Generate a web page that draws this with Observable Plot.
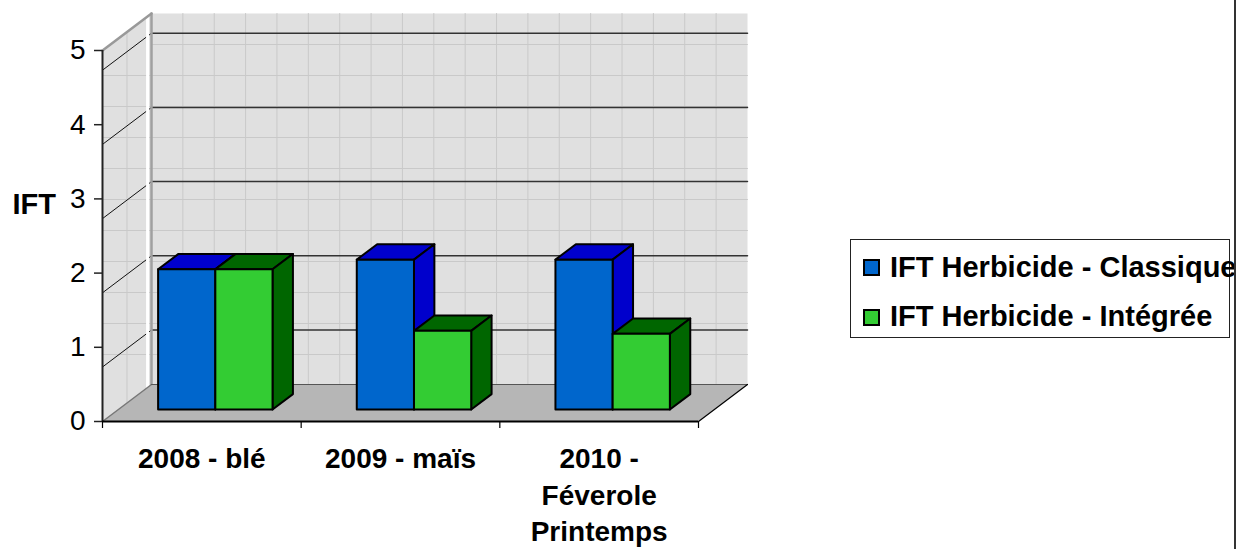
<!DOCTYPE html>
<html>
<head>
<meta charset="utf-8">
<script src="https://cdn.jsdelivr.net/npm/d3@7"></script>
<script src="https://cdn.jsdelivr.net/npm/@observablehq/plot@0.6"></script>
<style>
  body { margin: 0; background: #fff; }
  #wrap { position: relative; width: 1241px; height: 549px; overflow: hidden;
          font-family: "Liberation Sans", Arial, sans-serif; }
  #chart svg { display: block; }
  #legend { position: absolute; left: 850px; top: 239px; width: 378px; height: 97px;
            border: 1px solid #222; }
  #legend .sw { position: absolute; left: 12px; width: 13px; height: 13px;
                border: 2px solid #000; }
  #legend .lbl { position: absolute; left: 39px; white-space: nowrap;
                 font-size: 29px; font-weight: bold; line-height: 29px; color: #000; }
  #edge { position: absolute; left: 1234px; top: 0; width: 2px; height: 549px; background: #333; }
</style>
</head>
<body>
<div id="wrap">
  <div id="chart"></div>
  <div id="legend"></div>
  <div id="edge"></div>
</div>
<script>
// ---- data ----
const categories = ["2008 - blé", "2009 - maïs", "2010 -\nFéverole\nPrintemps"];
const seriesNames = ["IFT Herbicide - Classique", "IFT Herbicide - Intégrée"];
const classique = [1.89, 2.02, 2.02];
const integree  = [1.89, 1.06, 1.02];
const yTicks = [0, 1, 2, 3, 4, 5];
const yLabel = "IFT";

// ---- styles ----
const faceColors = [
  {front: "#0066CC", top: "#0000CC", side: "#0000CC"},
  {front: "#33CC33", top: "#006600", side: "#006600"}
];

// ---- layout ----
const W = 1241, H = 549, ML = 102, MR = 543, MT = 50, MB = 128;
const nCat = categories.length;
const yMax = yTicks[yTicks.length - 1];
const PX = nCat / (W - ML - MR);     // data x per pixel
const PY = yMax / (H - MT - MB);     // data y per pixel
const DXP = 49, DYP = 37;            // pixel offset of one unit of depth
const P = (x, v, d) => ({x: x + d * DXP * PX, y: v + d * DYP * PY});

const poly = (id, pts, fill) => pts.map(p => ({id, fill, ...p}));

// walls & floor
const walls = [
  ...poly("back", [P(0,0,1), P(nCat,0,1), P(nCat,yMax,1), P(0,yMax,1)], "#e0e0e0"),
  ...poly("left", [P(0,0,0), P(0,0,1), P(0,yMax,1), P(0,yMax,0)], "#e0e0e0")
];
const floor = poly("floor", [P(0,0,0), P(nCat,0,0), P(nCat,0,1), P(0,0,1)], "#b6b6b6");

// screen-aligned texture of the walls
const texture = [];
const nV = 19;
for (let k = 1; k < nV; k++) {
  texture.push(...poly("tv" + k, [P(k * nCat / nV, 0, 1), P(k * nCat / nV, yMax, 1)]));
}
texture.push(...poly("tl", [P(0, 0, 0.5), P(0, yMax, 0.5)]));
for (let k = 1; 31 * k < (H - MT - MB); k++) {
  const vb = yMax - 31 * k * PY;
  if (vb <= 0) break;
  const vf = vb + DYP * PY;
  const pts = vf <= yMax ? [P(0, vf, 0), P(0, vb, 1), P(nCat, vb, 1)] : [P(0, vb, 1), P(nCat, vb, 1)];
  texture.push(...poly("th" + k, pts));
}

// major gridlines (as drawn in the original, slightly shifted)
const shift = 19.7 * PY;
const gridBack = [], gridLeft = [];
yTicks.filter(v => v > 0).forEach(v => {
  gridBack.push(...poly("gb" + v, [P(0, v - shift, 1), P(nCat, v - shift, 1)]));
  gridLeft.push(...poly("gl" + v, [P(0, v - shift, 0), P(0, v - shift, 1)]));
});

// bars
const BAR_OFF = 0.2, BAR_W = 0.288, D0 = 0.324, D1 = 0.74;
const bars = [];
categories.forEach((c, i) => {
  [classique[i], integree[i]].forEach((v, s) => {
    const x0 = i + BAR_OFF + s * BAR_W, x1 = x0 + BAR_W, col = faceColors[s];
    bars.push(...poly(`t${i}${s}`, [P(x0,v,D0), P(x1,v,D0), P(x1,v,D1), P(x0,v,D1)], col.top));
    bars.push(...poly(`s${i}${s}`, [P(x1,0,D0), P(x1,0,D1), P(x1,v,D1), P(x1,v,D0)], col.side));
    bars.push(...poly(`f${i}${s}`, [P(x0,0,D0), P(x1,0,D0), P(x1,v,D0), P(x0,v,D0)], col.front));
  });
});

const seg = (pts, opts) => Plot.line(pts, {x: "x", y: "y", ...opts});

const chart = Plot.plot({
  width: W, height: H,
  marginLeft: ML, marginRight: MR, marginTop: MT, marginBottom: MB,
  x: {domain: [0, nCat], axis: null},
  y: {domain: [0, yMax], axis: null},
  color: {type: "identity"},
  style: {fontFamily: "'Liberation Sans', Arial, sans-serif", background: "white", overflow: "visible"},
  marks: [
    Plot.line(walls, {x: "x", y: "y", z: "id", fill: "fill", stroke: "none", curve: "linear-closed"}),
    Plot.line(texture, {x: "x", y: "y", z: "id", stroke: "#c9c9c9", strokeWidth: 1}),
    Plot.line(gridBack, {x: "x", y: "y", z: "id", stroke: "#333", strokeWidth: 1.5}),
    Plot.line(gridLeft, {x: "x", y: "y", z: "id", stroke: "#111", strokeWidth: 1}),
    seg([P(0,0,0.92), P(0,yMax,0.92)], {stroke: "#fff", strokeWidth: 3}),
    seg([P(0,0,1), P(0,yMax,1)], {stroke: "#a0a0a0", strokeWidth: 2.5}),
    seg([P(0,yMax,0), P(0,yMax,1)], {stroke: "#999", strokeWidth: 2.5}),
    Plot.line(floor, {x: "x", y: "y", z: "id", fill: "fill", stroke: "none", curve: "linear-closed"}),
    seg([P(0,0,0), P(0,0,1)], {stroke: "#777", strokeWidth: 1.5}),
    seg([P(0,0,1), P(nCat,0,1)], {stroke: "#555", strokeWidth: 1}),
    seg([P(nCat,0,0), P(nCat,0,1)], {stroke: "#000", strokeWidth: 1.2}),
    Plot.line(bars, {x: "x", y: "y", z: "id", fill: "fill", stroke: "#000", strokeWidth: 2,
                     strokeLinejoin: "round", curve: "linear-closed"}),
    // axes
    Plot.ruleX([0], {y1: 0, y2: yMax, stroke: "#222", strokeWidth: 2}),
    Plot.ruleY(yTicks, {y: d => d, x1: -8 * PX, x2: 0, stroke: "#222", strokeWidth: 1.5}),
    Plot.ruleY([0], {x1: 0, x2: nCat, stroke: "#000", strokeWidth: 2}),
    Plot.ruleX(d3.range(nCat + 1), {x: d => d, y1: 0, y2: -7 * PY, stroke: "#000", strokeWidth: 1.2}),
    Plot.text(yTicks, {x: 0, y: d => d, text: d => String(d), textAnchor: "end", dx: -17,
                       fontSize: 28, fill: "#000"}),
    Plot.text(categories, {x: (d, i) => i + 0.5, y: 0, text: d => d, lineAnchor: "top", dy: 21,
                           lineHeight: 36.5 / 28, fontSize: 28, fontWeight: "bold", fill: "#000"}),
    Plot.text([yLabel], {frameAnchor: "left", text: d => d, textAnchor: "start", dx: -90, dy: -31,
                         fontSize: 29, fontWeight: "bold", fill: "#000"})
  ]
});
document.getElementById("chart").appendChild(chart);

// legend
const legend = document.getElementById("legend");
seriesNames.forEach((name, s) => {
  const sw = document.createElement("div");
  sw.className = "sw";
  sw.style.top = (19 + 50 * s) + "px";
  sw.style.background = faceColors[s].front;
  legend.appendChild(sw);
  const lbl = document.createElement("div");
  lbl.className = "lbl";
  lbl.style.top = (13 + 48.5 * s) + "px";
  lbl.textContent = name;
  legend.appendChild(lbl);
});
</script>
</body>
</html>
